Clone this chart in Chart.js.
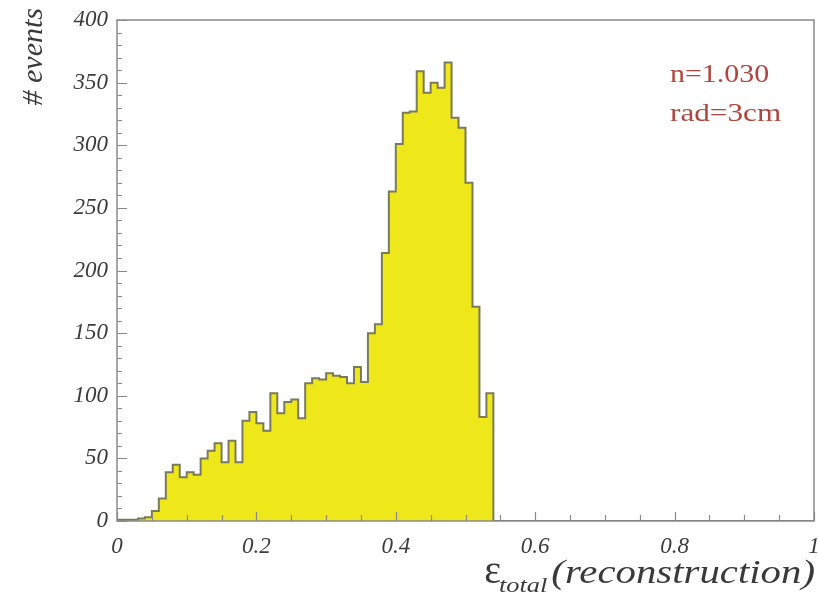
<!DOCTYPE html>
<html>
<head>
<meta charset="utf-8">
<script src="https://cdn.jsdelivr.net/npm/chart.js@4.4.1/dist/chart.umd.min.js"></script>
<style>
  html, body { margin: 0; padding: 0; background: #ffffff; }
  #wrap { width: 818px; height: 597px; position: relative; }
</style>
</head>
<body>
<div id="wrap"><canvas id="c" width="818" height="597"></canvas></div>
<script>
// Histogram binning: 100 bins over [0, 1]
const xMin = 0;
const xMax = 1;
const nBins = 100;

// Entries per bin of the reconstruction efficiency
const counts = [
    1,   1,   1,   2,   3,   8,  18,  39,  45,  35,
   39,  37,  50,  56,  62,  47,  64,  47,  80,  87,
   78,  72, 102,  86,  95,  97,  82, 110, 114, 113,
  118, 116, 115, 110, 123, 111, 150, 157, 214, 263,
  301, 326, 327, 359, 342, 350, 346, 366, 322, 314,
  270, 171,  83, 102,   0,   0,   0,   0,   0,   0,
    0,   0,   0,   0,   0,   0,   0,   0,   0,   0,
    0,   0,   0,   0,   0,   0,   0,   0,   0,   0,
    0,   0,   0,   0,   0,   0,   0,   0,   0,   0,
    0,   0,   0,   0,   0,   0,   0,   0,   0,   0
];

const xTickLabels = ['0', '0.2', '0.4', '0.6', '0.8', '1'];
const yMax = 400;
const yTitle = '# events';
const xTitleSymbol = '\u03B5';
const xTitleSub = 'total';
const xTitleRest = '(reconstruction)';
const noteLines = ['n=1.030', 'rad=3cm'];

// Step outline: one point per lower bin edge, plus the upper edge of the last bin.
// With 'before' stepping each bin's level runs from its lower edge to the next point.
const binWidth = (xMax - xMin) / nBins;
const points = counts.map((v, i) => ({ x: xMin + i * binWidth, y: v }));
points.push({ x: xMax, y: counts[counts.length - 1] });

const labelFont = { family: '"Liberation Serif", "DejaVu Serif", serif', size: 23, style: 'italic' };
const labelColor = '#3c3c3c';
const frameColor = '#8a8a8a';

// draw text stretched horizontally by sx, anchored at its left edge
function wideText(ctx, text, x, y, sx) {
  ctx.save();
  ctx.translate(x, y);
  ctx.scale(sx, 1);
  ctx.fillText(text, 0, 0);
  ctx.restore();
}

const decor = {
  id: 'decor',
  afterDatasetsDraw(chart) {
    const { ctx, chartArea: a, scales } = chart;
    const xs = scales.x, ys = scales.y;
    ctx.save();
    ctx.strokeStyle = frameColor;
    ctx.lineWidth = 1.5;
    ctx.strokeRect(a.left, a.top, a.right - a.left, a.bottom - a.top);

    // x ticks, pointing into the frame
    ctx.lineWidth = 1.2;
    ctx.beginPath();
    for (let k = 0; k <= 20; k++) {
      const v = k * 0.05;
      const px = Math.round(xs.getPixelForValue(v)) + 0.5;
      const len = (k % 4 === 0) ? 9 : 6;
      ctx.moveTo(px, a.bottom);
      ctx.lineTo(px, a.bottom - len);
    }
    // y ticks
    for (let v = 0; v <= yMax; v += 10) {
      const py = Math.round(ys.getPixelForValue(v)) + 0.5;
      const len = (v % 50 === 0) ? 10 : 5;
      ctx.moveTo(a.left, py);
      ctx.lineTo(a.left + len, py);
    }
    ctx.stroke();
    ctx.restore();
  },
  afterDraw(chart) {
    const { ctx } = chart;
    ctx.save();
    ctx.fillStyle = '#3a3a3a';
    ctx.textBaseline = 'alphabetic';
    ctx.textAlign = 'left';

    // y-axis title, reading upward, end at the top
    ctx.save();
    ctx.translate(42, 8);
    ctx.rotate(-Math.PI / 2);
    ctx.font = 'italic 30px "Liberation Serif", serif';
    ctx.textAlign = 'right';
    ctx.fillText(yTitle, 0, 0);
    ctx.restore();

    // x-axis title: epsilon with subscript, right-aligned to the frame
    const base = 583;
    const sx = 1.2;
    ctx.font = 'italic 34px "Liberation Serif", serif';
    const restW = ctx.measureText(xTitleRest).width * sx;
    const restX = 815 - restW;
    wideText(ctx, xTitleRest, restX, base, sx);
    ctx.font = 'italic 22px "Liberation Serif", serif';
    const subW = ctx.measureText(xTitleSub).width * sx;
    const subX = restX - 4 - subW;
    wideText(ctx, xTitleSub, subX, base + 9, sx);
    ctx.font = '40px "Liberation Serif", serif';
    const epsW = ctx.measureText(xTitleSymbol).width;
    ctx.fillText(xTitleSymbol, subX - epsW + 2, base);

    // parameter note
    ctx.fillStyle = '#b0463e';
    ctx.font = '26px "Liberation Serif", serif';
    wideText(ctx, noteLines[0], 670, 82, 1.15);
    wideText(ctx, noteLines[1], 670, 121, 1.2);
    ctx.restore();
  }
};

new Chart(document.getElementById('c'), {
  type: 'line',
  data: {
    datasets: [{
      data: points,
      stepped: 'before',
      fill: 'origin',
      backgroundColor: '#eee81a',
      borderColor: '#7a7a5c',
      borderWidth: 2,
      pointRadius: 0,
      tension: 0
    }]
  },
  options: {
    responsive: false,
    animation: false,
    devicePixelRatio: 1,
    layout: { padding: { top: 20, right: 4, left: 0, bottom: 0 } },
    plugins: { legend: { display: false }, tooltip: { enabled: false } },
    scales: {
      x: {
        type: 'linear',
        min: xMin,
        max: xMax,
        grid: { display: false },
        border: { display: false },
        ticks: {
          stepSize: 0.2,
          autoSkip: false,
          maxRotation: 0,
          padding: 4,
          font: labelFont,
          color: labelColor,
          callback: (v, i) => xTickLabels[i]
        },
        afterFit(s) { s.height = 76; s.paddingLeft = 0; s.paddingRight = 0; }
      },
      y: {
        min: 0,
        max: yMax,
        grid: { display: false },
        border: { display: false },
        ticks: {
          stepSize: 50,
          padding: 1,
          font: labelFont,
          color: labelColor
        },
        afterFit(s) { s.width = 117; s.paddingTop = 0; s.paddingBottom = 0; }
      }
    }
  },
  plugins: [decor]
});
</script>
</body>
</html>
